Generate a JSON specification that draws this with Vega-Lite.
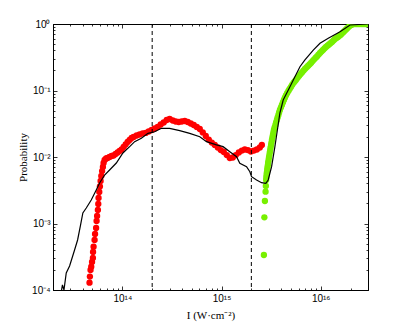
{
  "$schema": "https://vega.github.io/schema/vega-lite/v6.json",
  "width": 315,
  "height": 266,
  "autosize": {"type": "none"},
  "padding": {"left": 53, "top": 24, "right": 39, "bottom": 36},
  "config": {
    "view": {"stroke": "black", "strokeWidth": 1},
    "axis": {
      "grid": false,
      "domainColor": "black",
      "domainWidth": 1,
      "tickColor": "black",
      "tickWidth": 0.8,
      "labelColor": "black",
      "labelFont": "Liberation Sans",
      "labelFontSize": 10,
      "titleColor": "black",
      "titleFont": "Liberation Serif",
      "titleFontSize": 11,
      "titleFontWeight": "normal",
      "labelFlush": false,
      "labelOverlap": false
    }
  },
  "datasets": {
    "guides": [{"I": 2e14}, {"I": 2e15}],
    "sim": [
      {"I": 2.44e13, "P": 1e-4}, {"I": 2.49e13, "P": 1.19e-4}, {"I": 2.58e13, "P": 1e-4},
      {"I": 2.72e13, "P": 1.8e-4}, {"I": 2.94e13, "P": 2.3e-4}, {"I": 3.3e13, "P": 4.0e-4},
      {"I": 3.54e13, "P": 5.65e-4}, {"I": 3.79e13, "P": 9.49e-4}, {"I": 4.0e13, "P": 1.44e-3},
      {"I": 4.33e13, "P": 1.71e-3}, {"I": 4.86e13, "P": 2.26e-3}, {"I": 5.46e13, "P": 3.19e-3},
      {"I": 5.9e13, "P": 4.06e-3}, {"I": 6.63e13, "P": 5.36e-3}, {"I": 7.44e13, "P": 6.38e-3},
      {"I": 8.7e13, "P": 8.12e-3}, {"I": 1.014e14, "P": 1.15e-2}, {"I": 1.185e14, "P": 1.43e-2},
      {"I": 1.331e14, "P": 1.7e-2}, {"I": 1.556e14, "P": 1.91e-2}, {"I": 1.814e14, "P": 2.27e-2},
      {"I": 2.12e14, "P": 2.4e-2}, {"I": 2.48e14, "P": 2.7e-2}, {"I": 3.0e14, "P": 2.7e-2},
      {"I": 3.79e14, "P": 2.49e-2}, {"I": 4.78e14, "P": 2.27e-2}, {"I": 6.04e14, "P": 2.02e-2},
      {"I": 7.06e14, "P": 1.7e-2}, {"I": 8.9e14, "P": 1.52e-2}, {"I": 1.038e15, "P": 1.43e-2},
      {"I": 1.213e15, "P": 1.2e-2}, {"I": 1.418e15, "P": 1.01e-2}, {"I": 1.53e15, "P": 8.04e-3},
      {"I": 1.789e15, "P": 7.15e-3}, {"I": 1.931e15, "P": 6.01e-3}, {"I": 2.01e15, "P": 5.06e-3},
      {"I": 2.257e15, "P": 4.51e-3}, {"I": 2.535e15, "P": 4.11e-3}, {"I": 2.8e15, "P": 4.02e-3},
      {"I": 2.956e15, "P": 4.51e-3}, {"I": 3.2e15, "P": 7.15e-3}, {"I": 3.455e15, "P": 1.43e-2},
      {"I": 3.66e15, "P": 2.55e-2}, {"I": 3.88e15, "P": 4.59e-2}, {"I": 4.19e15, "P": 7.2e-2},
      {"I": 4.9e15, "P": 0.114}, {"I": 5.5e15, "P": 0.161}, {"I": 6.18e15, "P": 0.228},
      {"I": 6.94e15, "P": 0.288}, {"I": 8.42e15, "P": 0.406}, {"I": 9.84e15, "P": 0.513},
      {"I": 1.193e16, "P": 0.61}, {"I": 1.567e16, "P": 0.766}, {"I": 1.977e16, "P": 0.966},
      {"I": 3.0e16, "P": 1.0}
    ],
    "red": [
      {"I": 4.67e13, "P": 1.29e-4}, {"I": 4.71e13, "P": 1.59e-4}, {"I": 4.78e13, "P": 2.0e-4},
      {"I": 4.86e13, "P": 2.24e-4}, {"I": 4.95e13, "P": 2.64e-4}, {"I": 5.05e13, "P": 3.03e-4},
      {"I": 5.07e13, "P": 3.73e-4}, {"I": 5.13e13, "P": 4.48e-4}, {"I": 5.25e13, "P": 5.65e-4},
      {"I": 5.31e13, "P": 6.95e-4}, {"I": 5.44e13, "P": 8.55e-4}, {"I": 5.5e13, "P": 1.09e-3},
      {"I": 5.57e13, "P": 1.3e-3}, {"I": 5.67e13, "P": 1.6e-3}, {"I": 5.72e13, "P": 1.97e-3},
      {"I": 5.76e13, "P": 2.42e-3}, {"I": 5.86e13, "P": 2.98e-3}, {"I": 5.94e13, "P": 3.6e-3},
      {"I": 6.04e13, "P": 4.36e-3}, {"I": 6.14e13, "P": 5.18e-3}, {"I": 6.25e13, "P": 6.15e-3},
      {"I": 6.37e13, "P": 7.08e-3}, {"I": 6.47e13, "P": 8.12e-3}, {"I": 6.63e13, "P": 9.01e-3},
      {"I": 6.86e13, "P": 9.49e-3}, {"I": 7.1e13, "P": 9.66e-3}, {"I": 7.44e13, "P": 1.0e-2},
      {"I": 7.8e13, "P": 1.035e-2}, {"I": 8.17e13, "P": 1.054e-2}, {"I": 8.56e13, "P": 1.109e-2},
      {"I": 8.97e13, "P": 1.169e-2}, {"I": 9.39e13, "P": 1.231e-2}, {"I": 9.84e13, "P": 1.297e-2},
      {"I": 1.031e14, "P": 1.413e-2}, {"I": 1.08e14, "P": 1.542e-2}, {"I": 1.131e14, "P": 1.682e-2},
      {"I": 1.185e14, "P": 1.803e-2}, {"I": 1.241e14, "P": 1.931e-2}, {"I": 1.3e14, "P": 2.0e-2},
      {"I": 1.395e14, "P": 2.105e-2}, {"I": 1.495e14, "P": 2.18e-2}, {"I": 1.604e14, "P": 2.26e-2},
      {"I": 1.72e14, "P": 2.3e-2}, {"I": 1.844e14, "P": 2.42e-2}, {"I": 1.977e14, "P": 2.55e-2},
      {"I": 2.12e14, "P": 2.68e-2}, {"I": 2.273e14, "P": 2.83e-2}, {"I": 2.437e14, "P": 3.08e-2},
      {"I": 2.614e14, "P": 3.3e-2}, {"I": 2.802e14, "P": 3.6e-2}, {"I": 3.0e14, "P": 3.73e-2},
      {"I": 3.222e14, "P": 3.54e-2}, {"I": 3.454e14, "P": 3.42e-2}, {"I": 3.704e14, "P": 3.36e-2},
      {"I": 3.972e14, "P": 3.42e-2}, {"I": 4.259e14, "P": 3.48e-2}, {"I": 4.566e14, "P": 3.36e-2},
      {"I": 4.897e14, "P": 3.19e-2}, {"I": 5.25e14, "P": 3.03e-2}, {"I": 5.63e14, "P": 2.83e-2},
      {"I": 6.04e14, "P": 2.64e-2}, {"I": 6.473e14, "P": 2.34e-2}, {"I": 6.94e14, "P": 2.07e-2},
      {"I": 7.442e14, "P": 1.83e-2}, {"I": 7.98e14, "P": 1.65e-2}, {"I": 8.556e14, "P": 1.52e-2},
      {"I": 9.175e14, "P": 1.39e-2}, {"I": 9.838e14, "P": 1.27e-2}, {"I": 1.055e15, "P": 1.19e-2},
      {"I": 1.131e15, "P": 1.07e-2}, {"I": 1.213e15, "P": 9.66e-3}, {"I": 1.3e15, "P": 9.83e-3},
      {"I": 1.394e15, "P": 1.07e-2}, {"I": 1.495e15, "P": 1.169e-2}, {"I": 1.604e15, "P": 1.25e-2},
      {"I": 1.719e15, "P": 1.297e-2}, {"I": 1.844e15, "P": 1.27e-2}, {"I": 1.977e15, "P": 1.21e-2},
      {"I": 2.12e15, "P": 1.25e-2}, {"I": 2.273e15, "P": 1.297e-2}, {"I": 2.437e15, "P": 1.39e-2},
      {"I": 2.553e15, "P": 1.52e-2}
    ],
    "green": [
      {"I": 2.675e15, "P": 3.36e-4}, {"I": 2.706e15, "P": 1.239e-3}, {"I": 2.738e15, "P": 2.18e-3},
      {"I": 2.782e15, "P": 3.01e-3}, {"I": 2.8e15, "P": 3.66e-3}, {"I": 2.821e15, "P": 4.51e-3},
      {"I": 2.834e15, "P": 4.92e-3},
      {"I": 2.847e15, "P": 5.36e-3}, {"I": 2.868e15, "P": 5.85e-3}, {"I": 2.887e15, "P": 6.38e-3},
      {"I": 2.908e15, "P": 6.95e-3}, {"I": 2.935e15, "P": 7.58e-3}, {"I": 2.956e15, "P": 8.27e-3},
      {"I": 2.983e15, "P": 9.01e-3}, {"I": 3.012e15, "P": 9.83e-3}, {"I": 3.039e15, "P": 1.07e-2},
      {"I": 3.068e15, "P": 1.169e-2}, {"I": 3.096e15, "P": 1.27e-2}, {"I": 3.126e15, "P": 1.39e-2},
      {"I": 3.162e15, "P": 1.52e-2}, {"I": 3.192e15, "P": 1.65e-2}, {"I": 3.222e15, "P": 1.803e-2},
      {"I": 3.26e15, "P": 1.964e-2}, {"I": 3.298e15, "P": 2.14e-2}, {"I": 3.336e15, "P": 2.335e-2},
      {"I": 3.375e15, "P": 2.55e-2}, {"I": 3.431e15, "P": 2.777e-2}, {"I": 3.495e15, "P": 3.03e-2},
      {"I": 3.553e15, "P": 3.3e-2}, {"I": 3.619e15, "P": 3.6e-2}, {"I": 3.679e15, "P": 3.93e-2},
      {"I": 3.748e15, "P": 4.28e-2}, {"I": 3.81e15, "P": 4.67e-2}, {"I": 3.88e15, "P": 5.09e-2},
      {"I": 3.972e15, "P": 5.55e-2}, {"I": 4.065e15, "P": 6.05e-2}, {"I": 4.16e15, "P": 6.6e-2},
      {"I": 4.258e15, "P": 7.2e-2}, {"I": 4.358e15, "P": 7.79e-2}, {"I": 4.461e15, "P": 8.41e-2},
      {"I": 4.587e15, "P": 9.11e-2}, {"I": 4.727e15, "P": 9.83e-2}, {"I": 4.862e15, "P": 0.1053},
      {"I": 5.012e15, "P": 0.113}, {"I": 5.153e15, "P": 0.121}, {"I": 5.313e15, "P": 0.13},
      {"I": 5.463e15, "P": 0.1366}, {"I": 5.63e15, "P": 0.144}, {"I": 5.83e15, "P": 0.154},
      {"I": 6.04e15, "P": 0.165}, {"I": 6.25e15, "P": 0.176}, {"I": 6.473e15, "P": 0.187},
      {"I": 6.7e15, "P": 0.1985}, {"I": 6.94e15, "P": 0.211}, {"I": 7.19e15, "P": 0.2218},
      {"I": 7.442e15, "P": 0.234}, {"I": 7.71e15, "P": 0.246}, {"I": 7.98e15, "P": 0.259},
      {"I": 8.26e15, "P": 0.276}, {"I": 8.556e15, "P": 0.292}, {"I": 8.86e15, "P": 0.308},
      {"I": 9.175e15, "P": 0.325}, {"I": 9.5e15, "P": 0.345}, {"I": 9.84e15, "P": 0.366},
      {"I": 1.019e16, "P": 0.386}, {"I": 1.055e16, "P": 0.406}, {"I": 1.092e16, "P": 0.428},
      {"I": 1.131e16, "P": 0.451}, {"I": 1.171e16, "P": 0.472}, {"I": 1.213e16, "P": 0.492},
      {"I": 1.256e16, "P": 0.514}, {"I": 1.3e16, "P": 0.536}, {"I": 1.347e16, "P": 0.565},
      {"I": 1.394e16, "P": 0.595}, {"I": 1.444e16, "P": 0.616}, {"I": 1.495e16, "P": 0.637},
      {"I": 1.549e16, "P": 0.667}, {"I": 1.604e16, "P": 0.695}, {"I": 1.661e16, "P": 0.732},
      {"I": 1.719e16, "P": 0.771}, {"I": 1.781e16, "P": 0.812}, {"I": 1.844e16, "P": 0.856},
      {"I": 1.91e16, "P": 0.901}, {"I": 1.977e16, "P": 0.949}, {"I": 2.024e16, "P": 0.966},
      {"I": 2.07e16, "P": 0.983}, {"I": 2.15e16, "P": 1.0}, {"I": 2.22e16, "P": 1.0},
      {"I": 2.3e16, "P": 1.0}, {"I": 2.38e16, "P": 1.0}, {"I": 2.46e16, "P": 1.0},
      {"I": 2.553e16, "P": 1.0}, {"I": 2.65e16, "P": 1.0}, {"I": 2.738e16, "P": 1.0},
      {"I": 2.84e16, "P": 1.0}, {"I": 2.936e16, "P": 1.0}
    ]
  },
  "layer": [
    {
      "data": {"name": "red"},
      "mark": {"type": "point", "filled": true, "size": 40, "opacity": 1, "color": "#ff0000", "clip": true},
      "encoding": {
        "x": {
          "field": "I", "type": "quantitative",
          "scale": {"type": "log", "domain": [2e13, 3e16], "nice": false},
          "axis": {
            "orient": "bottom",
            "title": "I (W·cm⁻²)",
            "titlePadding": 4,
            "values": [2e13, 3e13, 4e13, 5e13, 6e13, 7e13, 8e13, 9e13, 1e14, 2e14, 3e14, 4e14, 5e14, 6e14, 7e14, 8e14, 9e14, 1e15, 2e15, 3e15, 4e15, 5e15, 6e15, 7e15, 8e15, 9e15, 1e16, 2e16, 3e16],
            "tickSize": {"condition": {"test": "datum.value == 1e14 || datum.value == 1e15 || datum.value == 1e16", "value": -4}, "value": -2},
            "labelPadding": 7,
            "labelExpr": "datum.value == 1e14 ? '10¹⁴' : datum.value == 1e15 ? '10¹⁵' : datum.value == 1e16 ? '10¹⁶' : ''"
          }
        },
        "y": {
          "field": "P", "type": "quantitative",
          "scale": {"type": "log", "domain": [1e-4, 1], "nice": false},
          "axis": {
            "orient": "left",
            "title": "Probability",
            "titlePadding": 3,
            "values": [1e-4, 2e-4, 3e-4, 4e-4, 5e-4, 6e-4, 7e-4, 8e-4, 9e-4, 1e-3, 2e-3, 3e-3, 4e-3, 5e-3, 6e-3, 7e-3, 8e-3, 9e-3, 1e-2, 2e-2, 3e-2, 4e-2, 5e-2, 6e-2, 7e-2, 8e-2, 9e-2, 0.1, 0.2, 0.3, 0.4, 0.5, 0.6, 0.7, 0.8, 0.9, 1],
            "tickSize": {"condition": {"test": "datum.value == 1e-4 || datum.value == 1e-3 || datum.value == 1e-2 || datum.value == 0.1 || datum.value == 1", "value": -4}, "value": -2},
            "labelPadding": 7,
            "labelExpr": "datum.value == 1 ? '10⁰' : datum.value == 0.1 ? '10⁻¹' : datum.value == 1e-2 ? '10⁻²' : datum.value == 1e-3 ? '10⁻³' : datum.value == 1e-4 ? '10⁻⁴' : ''"
          }
        }
      }
    },
    {
      "data": {"name": "green"},
      "mark": {"type": "point", "filled": true, "size": 40, "opacity": 1, "color": "#77f000", "clip": true},
      "encoding": {
        "x": {
          "field": "I", "type": "quantitative",
          "axis": {
            "orient": "top",
            "title": null,
            "labels": false,
            "domain": false,
            "values": [2e13, 3e13, 4e13, 5e13, 6e13, 7e13, 8e13, 9e13, 1e14, 2e14, 3e14, 4e14, 5e14, 6e14, 7e14, 8e14, 9e14, 1e15, 2e15, 3e15, 4e15, 5e15, 6e15, 7e15, 8e15, 9e15, 1e16, 2e16, 3e16],
            "tickSize": {"condition": {"test": "datum.value == 1e14 || datum.value == 1e15 || datum.value == 1e16", "value": -4}, "value": -2}
          }
        },
        "y": {
          "field": "P", "type": "quantitative",
          "axis": {
            "orient": "right",
            "title": null,
            "labels": false,
            "domain": false,
            "values": [1e-4, 2e-4, 3e-4, 4e-4, 5e-4, 6e-4, 7e-4, 8e-4, 9e-4, 1e-3, 2e-3, 3e-3, 4e-3, 5e-3, 6e-3, 7e-3, 8e-3, 9e-3, 1e-2, 2e-2, 3e-2, 4e-2, 5e-2, 6e-2, 7e-2, 8e-2, 9e-2, 0.1, 0.2, 0.3, 0.4, 0.5, 0.6, 0.7, 0.8, 0.9, 1],
            "tickSize": {"condition": {"test": "datum.value == 1e-4 || datum.value == 1e-3 || datum.value == 1e-2 || datum.value == 0.1 || datum.value == 1", "value": -4}, "value": -2}
          }
        }
      }
    },
    {
      "data": {"name": "sim"},
      "mark": {"type": "line", "color": "black", "strokeWidth": 1.2, "clip": true},
      "encoding": {
        "x": {"field": "I", "type": "quantitative", "axis": null},
        "y": {"field": "P", "type": "quantitative", "axis": null}
      }
    },
    {
      "data": {"name": "guides"},
      "mark": {"type": "rule", "color": "black", "strokeWidth": 1, "strokeDash": [4, 3]},
      "encoding": {
        "x": {"field": "I", "type": "quantitative", "axis": null}
      }
    }
  ],
  "resolve": {"axis": {"x": "independent", "y": "independent"}}
}
